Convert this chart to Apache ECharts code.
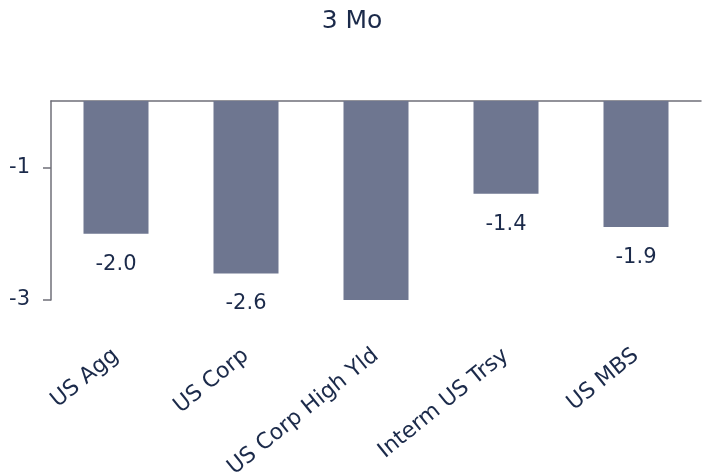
<!DOCTYPE html>
<html>
<head>
<meta charset="utf-8">
<script src="https://cdn.jsdelivr.net/npm/echarts@6/dist/echarts.min.js"></script>
<style>html,body{margin:0;padding:0;background:#fff}#c{width:704px;height:472px}</style>
</head>
<body>
<div id="c"></div>
<script>
var titleText = "3 Mo";
var categories = ["US Agg", "US Corp", "US Corp High Yld", "Interm US Trsy", "US MBS"];
var values = [-2.0, -2.6, -3.0, -1.4, -1.9];
var yTicks = [-3, -1];
var yMin = -3, yMax = 0;

var textColor = "#1b2a4a";
var barColor = "#6e7690";
var axisColor = "#6f6f78";
var font = "DejaVu Sans";

var data = values.map(function (v) {
  return { value: v, label: { show: v > yMin } };
});

var chart = echarts.init(document.getElementById("c"));
chart.setOption({
  animation: false,
  title: {
    text: titleText, left: "center", top: 4,
    textStyle: { fontFamily: font, fontSize: 25, fontWeight: "normal", color: textColor }
  },
  grid: { left: 51, right: 3, top: 101, bottom: 172, containLabel: false, outerBoundsMode: "none" },
  xAxis: [{
    type: "category", data: categories, position: "bottom",
    axisLine: { show: false }, axisTick: { show: false },
    axisLabel: { rotate: 39, margin: 53, interval: 0, fontFamily: font, fontSize: 22, color: textColor }
  }, {
    type: "category", data: categories, position: "top",
    axisLine: { show: true, onZero: false, lineStyle: { color: axisColor, width: 1.5 } },
    axisTick: { show: false }, axisLabel: { show: false }
  }],
  yAxis: {
    type: "value", min: yMin, max: yMax, interval: 2,
    splitLine: { show: false },
    axisLine: { show: true, lineStyle: { color: axisColor, width: 1.5 } },
    axisTick: { show: true, length: 8, customValues: yTicks, lineStyle: { color: axisColor, width: 1.5 } },
    axisLabel: { customValues: yTicks, margin: 21, fontFamily: font, fontSize: 21, color: textColor }
  },
  series: [{
    type: "bar", xAxisIndex: 0, data: data, barWidth: "50%",
    itemStyle: { color: barColor },
    label: {
      position: "bottom", distance: 20, fontFamily: font, fontSize: 21, color: textColor,
      formatter: function (p) { return p.value.toFixed(1); }
    }
  }]
});
</script>
</body>
</html>
